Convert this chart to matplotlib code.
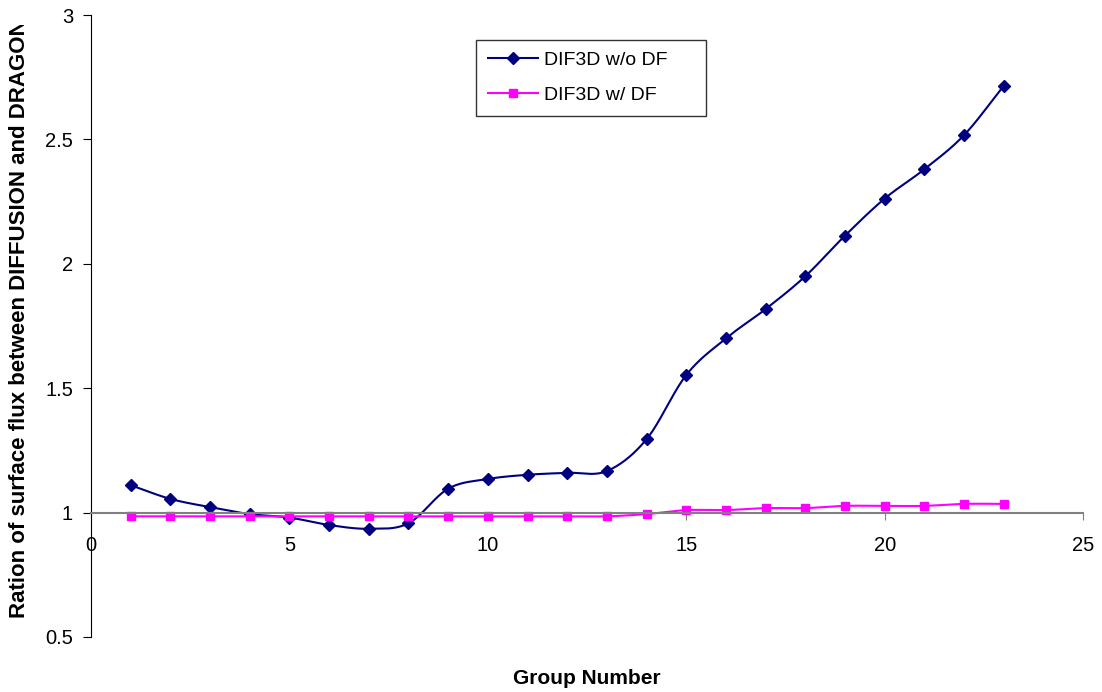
import matplotlib

matplotlib.use("Agg")
import matplotlib.pyplot as plt
import numpy as np
from matplotlib.transforms import Bbox, TransformedBbox

plt.rcParams["font.family"] = ["Liberation Sans", "DejaVu Sans"]

groups = list(range(1, 24))
without_df = [1.11, 1.055, 1.022, 0.994, 0.98, 0.95, 0.935, 0.957, 1.096, 1.135,
              1.152, 1.16, 1.167, 1.295, 1.553, 1.70, 1.818, 1.95, 2.113, 2.262,
              2.38, 2.517, 2.715]
with_df = [0.985, 0.985, 0.985, 0.985, 0.985, 0.985, 0.985, 0.985, 0.985, 0.985,
           0.985, 0.985, 0.985, 0.994, 1.01, 1.01, 1.018, 1.018, 1.027, 1.027,
           1.027, 1.035, 1.035]

NAVY = "#000080"
MAGENTA = "#ff00ff"


def smooth(x, y, n=20):
    """Catmull-Rom curve through the points, like Excel's smoothed line."""
    x = np.asarray(x, float)
    y = np.asarray(y, float)
    px = np.concatenate([[2 * x[0] - x[1]], x, [2 * x[-1] - x[-2]]])
    py = np.concatenate([[2 * y[0] - y[1]], y, [2 * y[-1] - y[-2]]])
    t = np.linspace(0, 1, n, endpoint=False)
    xs, ys = [], []
    for i in range(1, len(px) - 2):
        for p, out in ((px, xs), (py, ys)):
            p0, p1, p2, p3 = p[i - 1], p[i], p[i + 1], p[i + 2]
            out.append(0.5 * (2 * p1 + (-p0 + p2) * t
                              + (2 * p0 - 5 * p1 + 4 * p2 - p3) * t ** 2
                              + (-p0 + 3 * p1 - 3 * p2 + p3) * t ** 3))
    xs.append([x[-1]])
    ys.append([y[-1]])
    return np.concatenate(xs), np.concatenate(ys)


fig = plt.figure(figsize=(11.02, 6.92), dpi=100)
ax = fig.add_axes([0.0826, 0.0795, 0.9002, 0.8988])

for vals, color, marker, ms, label in (
    (without_df, NAVY, "D", 6.5, "DIF3D w/o DF"),
    (with_df, MAGENTA, "s", 6, "DIF3D w/ DF"),
):
    sx, sy = smooth(groups, vals)
    ax.plot(sx, sy, color=color, linewidth=1.5)
    ax.plot(groups, vals, linestyle="none", marker=marker, markersize=ms, color=color)
    ax.plot([], [], color=color, linewidth=1.5, marker=marker, markersize=ms, label=label)

ax.set_xlim(0, 25)
ax.set_ylim(0.5, 3)
ax.set_xticks([0, 5, 10, 15, 20, 25])
ax.set_yticks([0.5, 1, 1.5, 2, 2.5, 3])
ax.set_yticklabels(["0.5", "1", "1.5", "2", "2.5", "3"])

ax.spines["top"].set_visible(False)
ax.spines["right"].set_visible(False)
ax.spines["bottom"].set_position(("data", 1))
ax.spines["bottom"].set_color("#808080")
ax.spines["bottom"].set_linewidth(1.5)
ax.spines["left"].set_color("black")
ax.tick_params(axis="x", direction="out", length=5, color="#808080", pad=12, labelsize=14.5)
ax.tick_params(axis="y", direction="out", length=6, color="black", pad=7, labelsize=14.5)

ax.set_xlabel("Group Number", fontsize=15, fontweight="bold", va="center")
ax.xaxis.set_label_coords(0.5, -0.066)
ax.set_ylabel("Ration of surface flux between DIFFUSION and DRAGON",
              fontsize=16, fontweight="bold", va="center", ha="left")
ax.yaxis.set_label_coords(-0.0725, 0.0305)
# the reference cuts the label off just below the top edge
ylab = ax.yaxis.label
ylab.set_clip_box(TransformedBbox(Bbox([[0, 0], [1, (692 - 25) / 692]]), fig.transFigure))
ylab.set_clip_on(True)

leg = ax.legend(loc="upper left", bbox_to_anchor=(0.388, 0.96, 0.232, 0.0),
                mode="expand", borderaxespad=0,
                fontsize=14, frameon=True, fancybox=False, edgecolor="black",
                borderpad=0.6, labelspacing=0.9, handlelength=2.6,
                handletextpad=0.3)
leg.get_frame().set_linewidth(1.0)

fig.savefig("out.png", dpi=100, facecolor="white")
